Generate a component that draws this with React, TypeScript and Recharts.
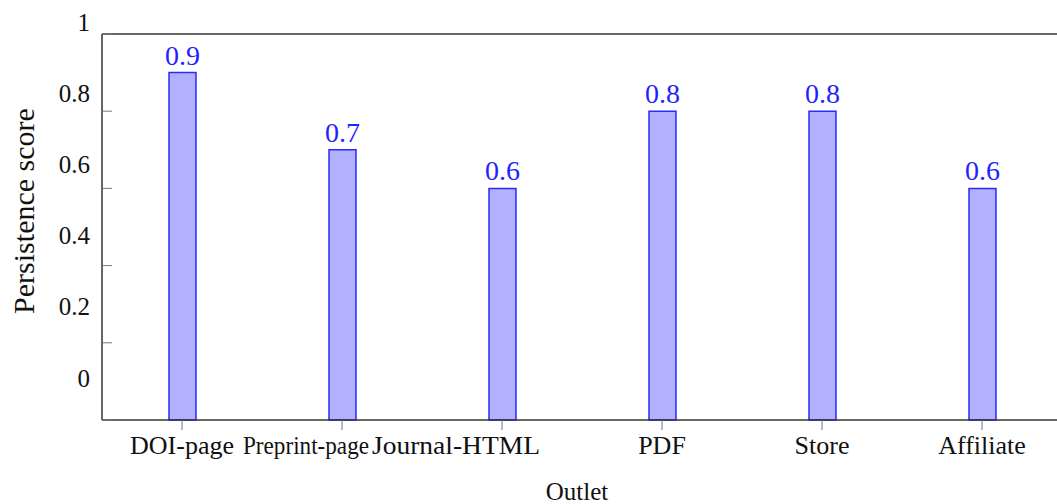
import React from 'react';
import { BarChart, Bar, XAxis, YAxis, LabelList } from 'recharts';

const outlets = ['DOI-page', 'Preprint-page', 'Journal-HTML', 'PDF', 'Store', 'Affiliate'];
const scores = [0.9, 0.7, 0.6, 0.8, 0.8, 0.6];
const leftTicks = [0, 0.2, 0.4, 0.6, 0.8, 1];
const rightTicks = [0.2, 0.4, 0.6, 0.8];

const data = outlets.map((name, i) => ({ name, score: scores[i] }));

const SERIF = '"Liberation Serif", "Times New Roman", serif';

// two of the category labels are pushed left in the original and butt against each other
const labelNudge: Record<string, { dx: number; len?: number }> = {
  'Preprint-page': { dx: -36, len: 126 },
  'Journal-HTML': { dx: -46, len: 168 },
};

// labels in the original sit a bit above their tick marks, more so near the bottom
const LeftTick = (props: any) => {
  const { x, y, payload } = props;
  const v = Number(payload.value);
  const shift = 12 + (1 - v) * 30;
  return (
    <text x={x - 20} y={y - shift} textAnchor="end" dominantBaseline="central"
      fontFamily={SERIF} fontSize={25} fill="#111">
      {String(v)}
    </text>
  );
};

const BottomTick = (props: any) => {
  const { x, y, payload } = props;
  const n = labelNudge[payload.value];
  const extra = n && n.len ? { textLength: n.len, lengthAdjust: 'spacingAndGlyphs' } : {};
  return (
    <text x={x + (n ? n.dx : 0)} y={y + 22} textAnchor="middle" fontFamily={SERIF} fontSize={26} fill="#111" {...extra}>
      {payload.value}
    </text>
  );
};

const YTitle = () => (
  <text x={23} y={211} transform="rotate(-90 23 211)" textAnchor="middle" dominantBaseline="central"
    fontFamily={SERIF} fontSize={30} fill="#111">
    Persistence score
  </text>
);

export default function App() {
  return (
    <div style={{ position: 'absolute', left: 0, top: 0, width: 1057, height: 504, overflow: 'hidden', background: '#fff' }}>
      <BarChart width={1075} height={504} data={data} margin={{ top: 0, right: 0, bottom: 0, left: 0 }}>
        <XAxis dataKey="name" xAxisId="bottom" height={84} interval={0}
          axisLine={{ stroke: '#333', strokeWidth: 1.5 }} tickLine={{ stroke: '#777' }} tickSize={10}
          tick={<BottomTick />}
          label={{ value: 'Outlet', position: 'insideBottom', offset: 4, dx: -5, fontFamily: SERIF, fontSize: 25, fill: '#111' }} />
        <XAxis dataKey="name" xAxisId="top" orientation="top" height={34} interval={0}
          axisLine={{ stroke: '#333', strokeWidth: 1.5 }} tickLine={{ stroke: '#777' }} tickSize={10} tick={false} />
        <YAxis yAxisId="left" width={102} domain={[0, 1]} ticks={leftTicks} interval={0}
          axisLine={{ stroke: '#333', strokeWidth: 1.5 }} tickLine={{ stroke: '#777' }} tickSize={-10}
          tick={<LeftTick />} label={<YTitle />} />
        <YAxis yAxisId="right" orientation="right" width={13} domain={[0, 1]} ticks={rightTicks} interval={0}
          axisLine={{ stroke: '#333', strokeWidth: 1.5 }} tickLine={{ stroke: '#777' }} tickSize={-10} tick={false} />
        <Bar dataKey="score" xAxisId="bottom" yAxisId="left" barSize={27}
          fill="#b1b1ff" stroke="#2a2aff" strokeWidth={1.5} isAnimationActive={false}>
          <LabelList dataKey="score" position="top" offset={8} fill="#1f1fff"
            fontFamily={SERIF} fontSize={28} />
        </Bar>
      </BarChart>
    </div>
  );
}
